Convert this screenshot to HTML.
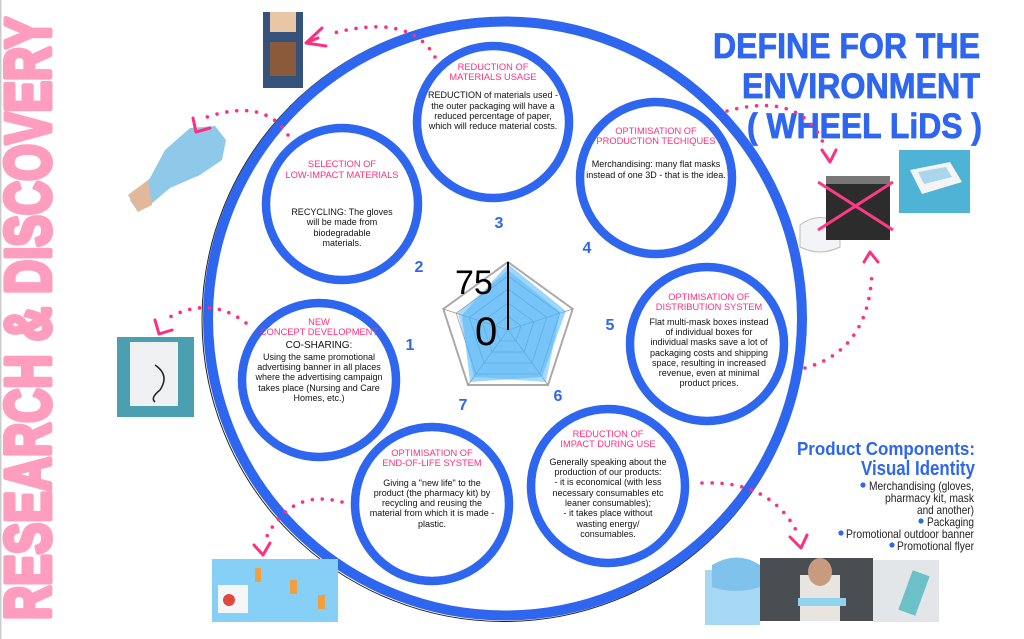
<!DOCTYPE html>
<html><head><meta charset="utf-8"><style>
html,body{margin:0;padding:0;background:#fff;}
svg{display:block;}
.h{font-family:"Liberation Sans",sans-serif;font-size:9.3px;fill:#ff2f7f;text-anchor:middle;}
.b{font-family:"Liberation Sans",sans-serif;font-size:9px;fill:#111;text-anchor:middle;}
.n{font-family:"Liberation Sans",sans-serif;font-size:16px;font-weight:bold;fill:#2f66f0;text-anchor:middle;}
.d{fill:none;stroke:#ff2f7f;stroke-width:3.6;stroke-linecap:round;stroke-dasharray:0 10;}
.ar{fill:none;stroke:#ff2f7f;stroke-width:3;stroke-linecap:round;stroke-linejoin:round;}
.c{fill:none;stroke:#2f66f0;stroke-width:8.5;}
.li{font-family:"Liberation Sans",sans-serif;font-size:12px;fill:#222;text-anchor:end;}
</style></head><body>
<svg width="1024" height="639" viewBox="0 0 1024 639" xmlns="http://www.w3.org/2000/svg">
<rect x="0" y="0" width="1.5" height="639" fill="#ccc"/>
<text transform="translate(50,620) rotate(-90)" x="0" y="0" textLength="603" lengthAdjust="spacingAndGlyphs" font-family="'Liberation Sans Narrow','Liberation Sans',sans-serif" font-weight="bold" font-size="64" fill="#ff9dbf" stroke="#ff9dbf" stroke-width="5" stroke-linejoin="round">RESEARCH &amp; DISCOVERY</text>

<!-- big circle -->
<circle cx="504" cy="319.5" r="302" fill="none" stroke="#222" stroke-width="1"/>
<circle cx="505" cy="318.5" r="297" fill="none" stroke="#2f66f0" stroke-width="10"/>

<!-- small circles -->
<circle class="c" cx="493" cy="122" r="76"/>
<circle class="c" cx="342" cy="204" r="76"/>
<circle class="c" cx="656" cy="178" r="76"/>
<circle class="c" cx="707" cy="344" r="77"/>
<circle class="c" cx="319" cy="380" r="77"/>
<circle class="c" cx="432" cy="504" r="77"/>
<circle class="c" cx="608" cy="486" r="77"/>

<text class="h" x="493" y="70">REDUCTION OF</text>
<text class="h" x="493" y="80">MATERIALS USAGE</text>
<text class="b" x="493" y="98">REDUCTION of materials used -</text>
<text class="b" x="493" y="109">the outer packaging will have a</text>
<text class="b" x="493" y="119">reduced percentage of paper,</text>
<text class="b" x="493" y="129">which will reduce material costs.</text>

<text class="h" x="342" y="167">SELECTION OF</text>
<text class="h" x="342" y="178">LOW-IMPACT MATERIALS</text>
<text class="b" x="342" y="215">RECYCLING: The gloves</text>
<text class="b" x="342" y="225">will be made from</text>
<text class="b" x="342" y="236">biodegradable</text>
<text class="b" x="342" y="246">materials.</text>

<text class="h" x="656" y="134">OPTIMISATION OF</text>
<text class="h" x="656" y="144">PRODUCTION TECHIQUES</text>
<text class="b" x="656" y="167">Merchandising: many flat masks</text>
<text class="b" x="656" y="178">instead of one 3D - that is the idea.</text>

<text class="h" x="709" y="300">OPTIMISATION OF</text>
<text class="h" x="709" y="310">DISTRIBUTION SYSTEM</text>
<text class="b" x="709" y="325">Flat multi-mask boxes instead</text>
<text class="b" x="709" y="335">of individual boxes for</text>
<text class="b" x="709" y="345">individual masks save a lot of</text>
<text class="b" x="709" y="356">packaging costs and shipping</text>
<text class="b" x="709" y="366">space, resulting in increased</text>
<text class="b" x="709" y="376">revenue, even at minimal</text>
<text class="b" x="709" y="386">product prices.</text>

<text class="h" x="319" y="325">NEW</text>
<text class="h" x="319" y="335">CONCEPT DEVELOPMENT</text>
<text class="b" x="319" y="348" style="font-size:10px">CO-SHARING:</text>
<text class="b" x="319" y="360">Using the same promotional</text>
<text class="b" x="319" y="370">advertising banner in all places</text>
<text class="b" x="319" y="380">where the advertising campaign</text>
<text class="b" x="319" y="391">takes place (Nursing and Care</text>
<text class="b" x="319" y="401">Homes, etc.)</text>

<text class="h" x="432" y="456">OPTIMISATION OF</text>
<text class="h" x="432" y="466">END-OF-LIFE SYSTEM</text>
<text class="b" x="432" y="486">Giving a "new life" to the</text>
<text class="b" x="432" y="496">product (the pharmacy kit) by</text>
<text class="b" x="432" y="506">recycling and reusing the</text>
<text class="b" x="432" y="516">material from which it is made -</text>
<text class="b" x="432" y="527">plastic.</text>

<text class="h" x="608" y="437">REDUCTION OF</text>
<text class="h" x="608" y="447">IMPACT DURING USE</text>
<text class="b" x="608" y="465">Generally speaking about the</text>
<text class="b" x="608" y="475">production of our products:</text>
<text class="b" x="608" y="485">-  it is economical (with less</text>
<text class="b" x="608" y="496">necessary consumables etc</text>
<text class="b" x="608" y="506">leaner consumables);</text>
<text class="b" x="608" y="516">-  it takes place without</text>
<text class="b" x="608" y="527">wasting energy/</text>
<text class="b" x="608" y="537">consumables.</text>

<text class="n" x="499" y="228">3</text>
<text class="n" x="419" y="272">2</text>
<text class="n" x="587" y="253">4</text>
<text class="n" x="410" y="350">1</text>
<text class="n" x="610" y="330">5</text>
<text class="n" x="558" y="401">6</text>
<text class="n" x="463" y="410">7</text>

<g transform="translate(508,330)">
<polygon points="0,-68 64.7,-21 40,55 -40,55 -64.7,-21" fill="none" stroke="#aaa" stroke-width="2"/>
<polygon points="0,-54 51.8,-16.8 32,44 -32,44 -51.8,-16.8" fill="none" stroke="#999" stroke-width="0.8"/>
<polygon points="0,-41 38.8,-12.6 24,33 -24,33 -38.8,-12.6" fill="none" stroke="#999" stroke-width="0.8"/>
<polygon points="0,-27 25.9,-8.4 16,22 -16,22 -25.9,-8.4" fill="none" stroke="#999" stroke-width="0.8"/>
<polygon points="0,-14 12.9,-4.2 8,11 -8,11 -12.9,-4.2" fill="none" stroke="#999" stroke-width="0.8"/>
<line x1="0" y1="0" x2="64.7" y2="-21" stroke="#999" stroke-width="0.8"/>
<line x1="0" y1="0" x2="40" y2="55" stroke="#999" stroke-width="0.8"/>
<line x1="0" y1="0" x2="-40" y2="55" stroke="#999" stroke-width="0.8"/>
<line x1="0" y1="0" x2="-64.7" y2="-21" stroke="#999" stroke-width="0.8"/>
<polygon points="0,-66 58,-19 34,47 -38,52 -46,-15" fill="#4fb4f5" fill-opacity="0.55"/>
<polygon points="0,-60 52,-18 38,52 -34,47 -50,-17" fill="#4fb4f5" fill-opacity="0.5"/>
</g>
<line x1="508" y1="262" x2="508" y2="330" stroke="#000" stroke-width="2"/>
<text x="455" y="294" font-family="'Liberation Sans',sans-serif" font-size="34" fill="#000">75</text>
<text x="475" y="345" font-family="'Liberation Sans',sans-serif" font-size="40" fill="#000">0</text>

<g font-family="'Liberation Sans',sans-serif" font-weight="bold" font-size="35" fill="#2f66f0" text-anchor="end" stroke="#2f66f0" stroke-width="0.8">
<text x="980" y="58" textLength="267" lengthAdjust="spacingAndGlyphs">DEFINE FOR THE</text>
<text x="980" y="98" textLength="238" lengthAdjust="spacingAndGlyphs">ENVIRONMENT</text>
<text x="982" y="138" textLength="235" lengthAdjust="spacingAndGlyphs">( WHEEL LiDS )</text>
</g>

<text x="975" y="455" font-family="'Liberation Sans',sans-serif" font-weight="bold" font-size="18" fill="#2f66f0" text-anchor="end" textLength="178" lengthAdjust="spacingAndGlyphs">Product Components:</text>
<text x="975" y="475" font-family="'Liberation Sans',sans-serif" font-weight="bold" font-size="20" fill="#2f66f0" text-anchor="end" textLength="114" lengthAdjust="spacingAndGlyphs">Visual Identity</text>
<text class="li" x="974" y="490" textLength="105" lengthAdjust="spacingAndGlyphs">Merchandising (gloves,</text>
<text class="li" x="974" y="502" textLength="89" lengthAdjust="spacingAndGlyphs">pharmacy kit, mask</text>
<text class="li" x="974" y="514" textLength="57" lengthAdjust="spacingAndGlyphs">and another)</text>
<text class="li" x="974" y="526" textLength="47" lengthAdjust="spacingAndGlyphs">Packaging</text>
<text class="li" x="974" y="538" textLength="128" lengthAdjust="spacingAndGlyphs">Promotional outdoor banner</text>
<text class="li" x="974" y="550" textLength="77" lengthAdjust="spacingAndGlyphs">Promotional flyer</text>
<circle cx="863" cy="485" r="2.6" fill="#2f66f0"/>
<circle cx="921" cy="521" r="2.6" fill="#2f66f0"/>
<circle cx="841" cy="533" r="2.6" fill="#2f66f0"/>
<circle cx="892" cy="545" r="2.6" fill="#2f66f0"/>

<rect x="263" y="12" width="40" height="76" fill="#34527a"/>
<rect x="270" y="12" width="26" height="20" fill="#e9c6a6"/>
<rect x="270" y="42" width="26" height="34" fill="#8a5a3a"/>
<path d="M130,200 L150,178 L165,150 L190,128 L215,126 L226,140 L222,160 L200,175 L170,188 L150,205 L138,212 Z" fill="#8ec9ea"/>
<path d="M128,195 L148,180 L152,205 L138,212 Z" fill="#e2b89a"/>
<rect x="117" y="337" width="77" height="80" fill="#4a9fb0"/>
<rect x="130" y="342" width="48" height="64" fill="#eef0f2"/>
<path d="M155,365 q15,10 5,25 q-10,8 -5,12" fill="none" stroke="#222" stroke-width="1.5"/>
<rect x="212" y="559" width="126" height="63" fill="#86cff6"/>
<rect x="218" y="585" width="30" height="28" fill="#f4f6f8"/>
<circle cx="229" cy="600" r="6" fill="#e04a3a"/>
<rect x="255" y="568" width="6" height="14" fill="#f0a040"/><rect x="290" y="580" width="7" height="14" fill="#f0a040"/><rect x="318" y="595" width="7" height="14" fill="#f0a040"/>
<path d="M800,225 q20,-15 40,0 l0,22 q-20,10 -40,0 Z" fill="#f2f4f6" stroke="#bbb" stroke-width="1"/>
<rect x="826" y="176" width="64" height="64" fill="#2c2c2c"/>
<rect x="826" y="176" width="64" height="8" fill="#777"/>
<line x1="818" y1="182" x2="893" y2="230" stroke="#ff3a84" stroke-width="3"/>
<line x1="818" y1="230" x2="893" y2="182" stroke="#ff3a84" stroke-width="3"/>
<rect x="899" y="150" width="71" height="63" fill="#4eb3d4"/>
<path d="M910,170 l40,-8 l12,20 l-40,12 Z" fill="#f4f4f4"/>
<path d="M918,172 l28,-5 l6,10 l-28,7 Z" fill="#a9d6ec"/>
<rect x="705" y="570" width="55" height="55" fill="#a6d8f4"/>
<path d="M712,565 q25,-15 48,0 l0,22 q-25,8 -48,0 Z" fill="#7fc3ec"/>
<rect x="760" y="558" width="113" height="63" fill="#4a4e52"/>
<rect x="800" y="575" width="40" height="46" fill="#e8e4e0"/>
<ellipse cx="820" cy="572" rx="12" ry="14" fill="#c89a80"/>
<rect x="798" y="598" width="48" height="8" fill="#8fd3ec"/>
<rect x="873" y="560" width="66" height="62" fill="#e3e6e8"/>
<rect x="905" y="572" width="18" height="42" fill="#6cc0c8" transform="rotate(20 914 593)"/>

<path class="d" d="M435,57 Q410,12 330,34"/>
<path class="ar" d="M322,28 L306,43 L326,46 M306,43 L318,38"/>
<path class="d" d="M288,135 Q265,98 207,117"/>
<path class="ar" d="M193,118 L196,132 L210,128"/>
<path class="d" d="M246,323 Q210,295 168,318"/>
<path class="ar" d="M155,320 L159,334 L172,330"/>
<path class="d" d="M342,502 Q290,488 265,540"/>
<path class="ar" d="M254,545 L263,555 L270,543"/>
<path class="d" d="M702,483 Q770,480 797,532"/>
<path class="ar" d="M790,537 L801,548 L807,535"/>
<path class="d" d="M805,368 Q870,350 872,270"/>
<path class="ar" d="M864,262 L870,252 L878,262"/>
<path class="d" d="M727,111 Q805,90 826,150"/>
<path class="ar" d="M822,150 L830,162 L836,150"/>
</svg>
</body></html>
